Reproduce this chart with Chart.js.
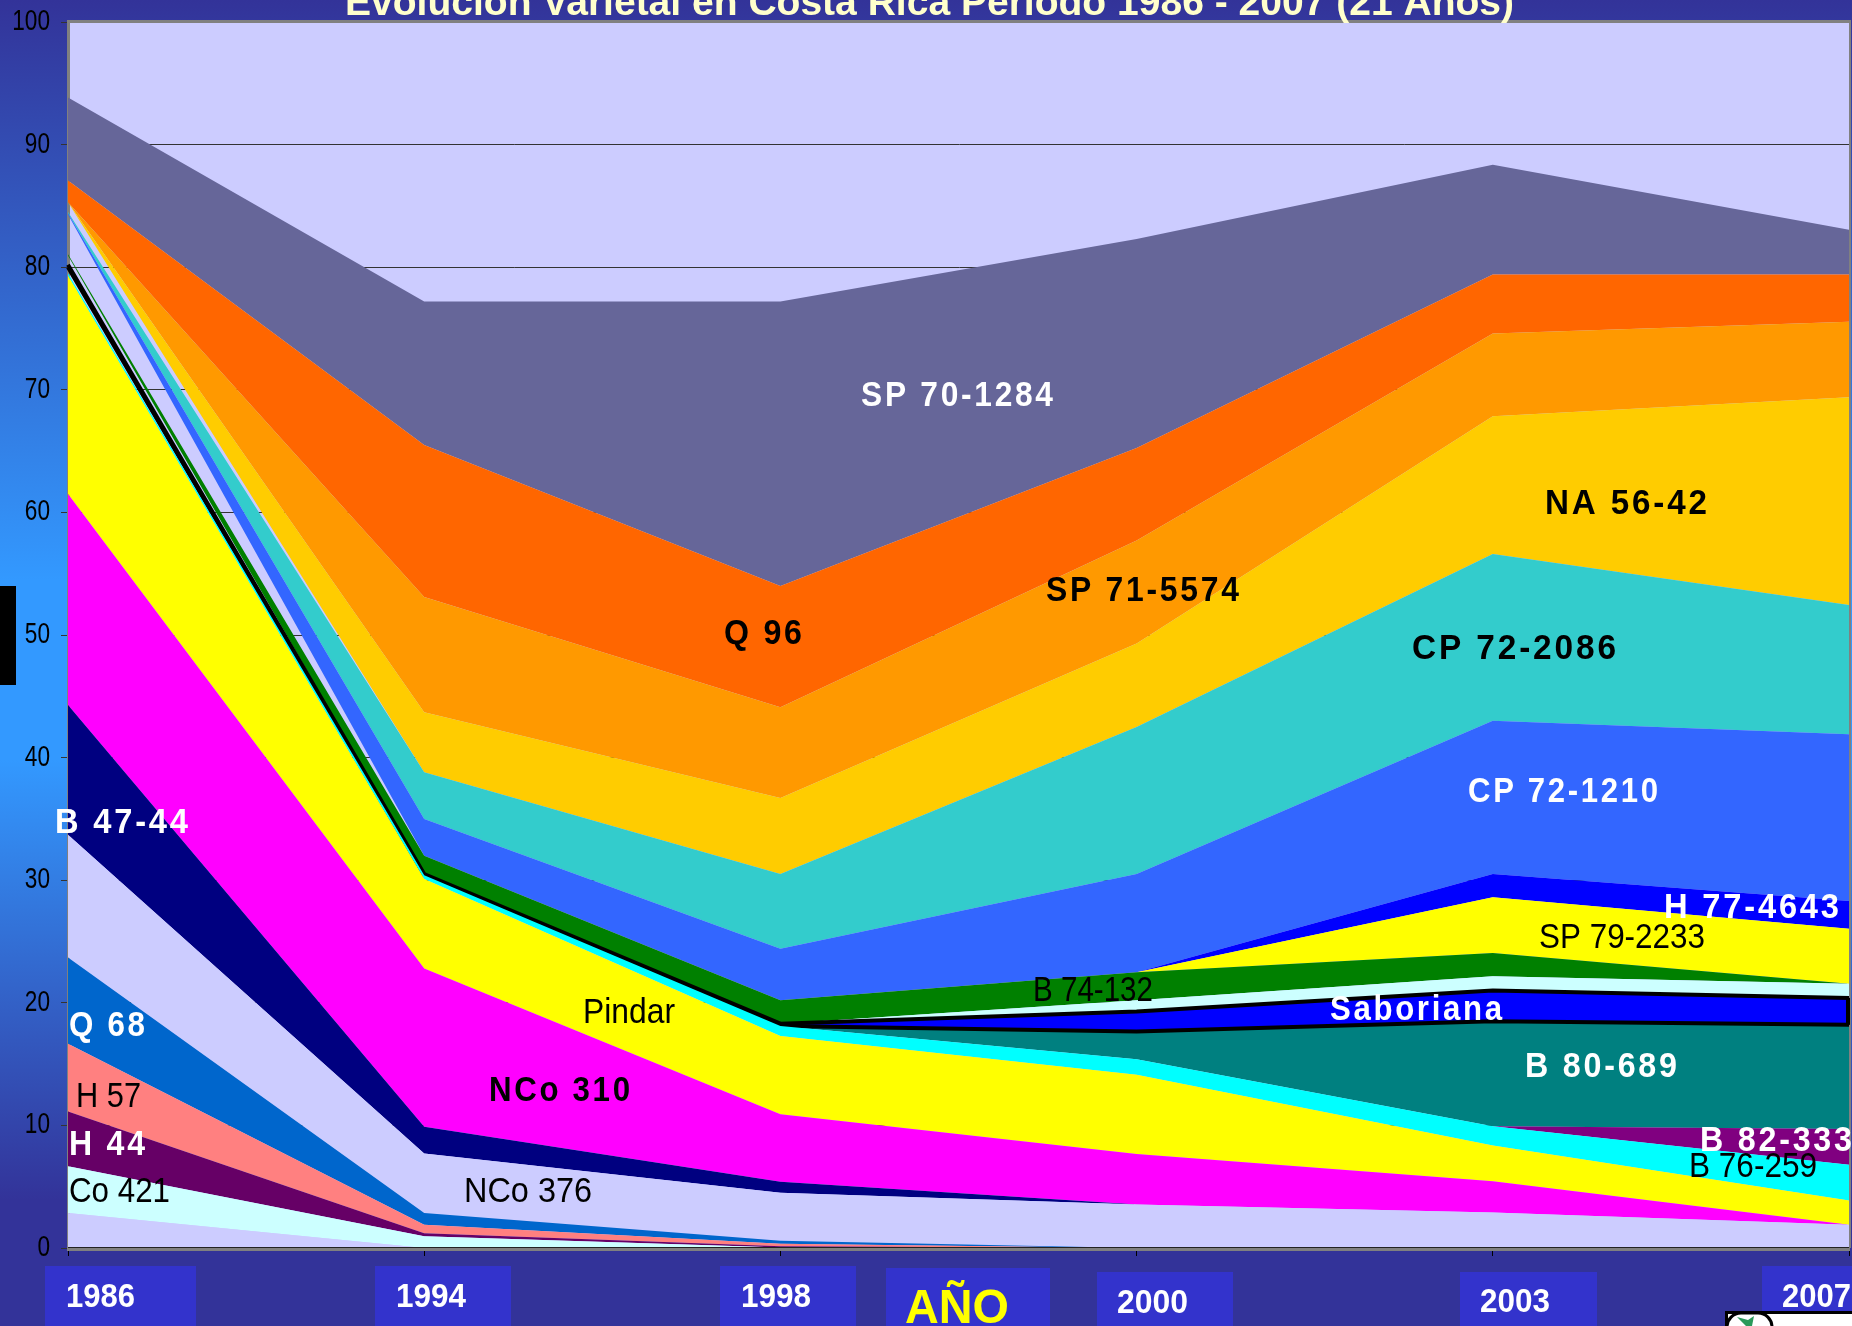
<!DOCTYPE html>
<html lang="es">
<head>
<meta charset="utf-8">
<title>Evolución Varietal en Costa Rica</title>
<script src="https://cdn.jsdelivr.net/npm/chart.js@4"></script>
<style>
html,body{margin:0;padding:0;width:1852px;height:1326px;overflow:hidden;
background:linear-gradient(to bottom,#333399 0,#3399FF 580px,#3399FF 760px,#333399 1200px,#333399 1326px);}
canvas{display:block;}
</style>
</head>
<body>
<canvas id="c" width="1852" height="1326"></canvas>
<script>
// ---------- data ----------
const categories = ['1986','1994','1998','2000','2003','2007'];
const yTicks = {min:0,max:100,step:10};
const seriesNames = ['Sin rótulo 1','Co 421','H 44','H 57','Q 68','NCo 376','B 47-44','NCo 310','Pindar','B 76-259','B 82-333','Hueco A','B 80-689','Saboriana','Sin rótulo 2','Hueco B','B 74-132','Hueco C','SP 79-2233','H 77-4643','CP 72-1210','CP 72-2086','Hueco D','NA 56-42','SP 71-5574','Q 96','SP 70-1284'];
const sinRotulo1 = [2.85,0,0,0,0,0];
const co421   = [3.81,0.95,0.05,0,0,0];
const h44     = [4.48,0.25,0.10,0,0,0];
const h57     = [5.52,0.7,0.2,0,0,0];
const q68     = [7.04,0.95,0.25,0,0,0];
const nco376  = [10,4.85,3.9,3.55,2.9,1.9];
const b4744   = [10.6,2.2,0.9,0,0,0];
const nco310  = [17.2,12.9,5.5,4.11,2.55,0];
const pindar  = [17.8,7.3,6.4,6.47,2.91,1.97];
const b76259  = [0.2,0.3,0.8,1.27,1.57,2.93];
const b82333  = [0,0,0,0,0,2.9];
const huecoA  = [0.5,0,0,0,0,0];
const b80689  = [0,0,0,2.26,8.57,8.5];
const saboriana = [0.2,0.1,0.2,1.64,2.5,2.2];
const sinRotulo2 = [0,0,0,0.9,1.16,1.16];
const huecoB  = [0.75,0,0,0,0,0];
const b74132  = [0.1,1.5,1.9,2.3,1.9,0];
const huecoC  = [3.25,0,0,0,0,0];
const sp792233 = [0,0,0,0,4.54,4.49];
const h774643 = [0,0,0,0,1.9,2.25];
const cp721210 = [0.1,3,4.2,8,12.5,13.6];
const cp722086 = [0.1,3.8,6.1,12,13.6,10.55];
const huecoD  = [0.8,0,0,0,0,0];
const na5642  = [0,4.9,6.2,6.8,11.25,16.95];
const sp715574 = [0,9.4,7.4,8.4,6.75,6.15];
const q96     = [1.77,12.4,9.9,7.55,4.8,3.85];
const sp701284 = [6.78,11.7,23.2,17.05,8.95,3.66];
const seriesValues = [sinRotulo1,co421,h44,h57,q68,nco376,b4744,nco310,pindar,b76259,b82333,huecoA,b80689,saboriana,sinRotulo2,huecoB,b74132,huecoC,sp792233,h774643,cp721210,cp722086,huecoD,na5642,sp715574,q96,sp701284];
// ---------- styles ----------
const seriesColors = ['#CCCCFF','#CCFFFF','#660066','#FF8080','#0066CC','#CCCCFF','#000080','#FF00FF','#FFFF00','#00FFFF','#800080','rgba(0,0,0,0)','#008080','#0000FF','#CCFFFF','rgba(0,0,0,0)','#008000','rgba(0,0,0,0)','#FFFF00','#0000FF','#3366FF','#33CCCC','rgba(0,0,0,0)','#FFCC00','#FF9900','#FF6600','#666699'];
const outlined = ['B 80-689','Saboriana'];
const FONT = '"Liberation Sans",Arial,sans-serif';
// text, left, right, baseline, bold, size, letterSpacing, colour
const seriesLabels = [
 ['SP 70-1284',861,1053,406,1,35,3,'#fff'],
 ['Q 96',724,802,644,1,35,3,'#000'],
 ['SP 71-5574',1046,1239,601,1,35,3,'#000'],
 ['NA 56-42',1545,1707,514,1,35,3,'#000'],
 ['CP 72-2086',1412,1616,659,1,35,3,'#000'],
 ['CP 72-1210',1468,1658,802,1,35,3,'#fff'],
 ['H 77-4643',1664,1839,918,1,35,3,'#fff'],
 ['Saboriana',1330,1502,1020,1,35,3,'#fff'],
 ['B 80-689',1525,1677,1077,1,35,3,'#fff'],
 ['B 82-333',1700,1852,1151,1,35,3,'#fff'],
 ['B 47-44',55,188,833,1,35,3,'#fff'],
 ['Q 68',69,145,1036,1,35,3,'#fff'],
 ['H 44',69,145,1155,1,35,3,'#fff'],
 ['NCo 310',489,630,1101,1,35,3,'#000'],
 ['SP 79-2233',1539,1705,948,0,35,0,'#000'],
 ['B 76-259',1689,1817,1177,0,35,0,'#000'],
 ['B 74-132',1033,1153,1001,0,35,0,'#000'],
 ['Pindar',583,675,1023,0,35,0,'#000'],
 ['NCo 376',464,592,1202,0,35,0,'#000'],
 ['H 57',76,141,1107,0,35,0,'#000'],
 ['Co 421',69,170,1202,0,35,0,'#000']
];
// box left, box right, box top, text left, text right, baseline
const yearBoxes = [
 [45,196,1266,66,135,1307],
 [375,511,1266,396,466,1307],
 [720,856,1266,741,811,1307],
 [1097,1233,1272,1117,1188,1313],
 [1460,1597,1272,1480,1550,1312],
 [1762,1852,1266,1782,1851,1307]
];
const axisTitle = 'AÑO';
const chartTitle = 'Evolución Varietal en Costa Rica Período 1986 - 2007 (21 Años)';

function fitText(ctx,text,left,right,base,bold,size,spacing,color){
  ctx.save();
  ctx.font=(bold?'bold ':'')+size+'px '+FONT;
  ctx.letterSpacing=spacing+'px';
  ctx.textAlign='left';ctx.textBaseline='alphabetic';
  ctx.fillStyle=color;
  const w=ctx.measureText(text).width-spacing;
  ctx.translate(left,base);
  ctx.scale((right-left)/w,1);
  ctx.fillText(text,0,0);
  ctx.restore();
}
const overlay = {
  id:'overlay',
  beforeDraw(chart){
    const a=chart.chartArea,ctx=chart.ctx;
    ctx.save();ctx.fillStyle='#CCCCFF';
    ctx.fillRect(a.left,a.top,a.right-a.left,a.bottom-a.top);
    ctx.restore();
  },
  afterLayout(chart){
    // the value labels are condensed in the reference: squeeze the scale's own labels
    const s=chart.scales.y;
    if(s._wrapped) return;
    s._wrapped=true;
    const drawLabels=s.drawLabels;
    s.drawLabels=function(area){
      const ctx=this.ctx;
      ctx.save();ctx.translate(50,0);ctx.scale(0.78,1);ctx.translate(-50,0);
      drawLabels.call(this,area);
      ctx.restore();
    };
  },
  afterDraw(chart){
    const ctx=chart.ctx,a=chart.chartArea;
    ctx.save();
    // grey frame
    ctx.fillStyle='#808080';
    ctx.fillRect(a.left-1,a.top-2,a.right-a.left+2,3);
    ctx.fillRect(a.right,a.top-2,2,a.bottom-a.top+2);
    ctx.fillRect(a.left-1,a.bottom,a.right-a.left+2,3);
    ctx.fillStyle='#222';
    ctx.fillRect(a.left,a.bottom-1,a.right-a.left,1);
    // black closing edge of the outlined series at the last category
    const top=chart.getDatasetMeta(seriesNames.indexOf('Saboriana')).data[5];
    const low=chart.getDatasetMeta(seriesNames.indexOf('B 80-689')).data[5];
    ctx.strokeStyle='#000';ctx.lineWidth=4;
    ctx.beginPath();ctx.moveTo(top.x-1,top.y);ctx.lineTo(low.x-1,low.y);ctx.stroke();
    // stray black block at the left edge
    ctx.fillStyle='#000';ctx.fillRect(0,586,16,99);
    // boxes under the axis
    ctx.fillStyle='#3333CC';
    yearBoxes.forEach(b=>ctx.fillRect(b[0],b[2],b[1]-b[0],1326-b[2]));
    ctx.fillRect(886,1268,164,58);
    // logo fragment
    ctx.fillStyle='#000';ctx.fillRect(1725,1311,127,15);
    ctx.fillStyle='#fff';ctx.fillRect(1728,1314,124,12);
    ctx.beginPath();ctx.roundRect(1727,1313,45,30,14);
    ctx.lineWidth=3;ctx.strokeStyle='#000';ctx.stroke();
    ctx.fillStyle='#2A9A5A';
    ctx.beginPath();ctx.moveTo(1737,1317);ctx.lineTo(1746,1326);ctx.lineTo(1752,1326);ctx.lineTo(1754,1316);ctx.lineTo(1748,1320);ctx.closePath();ctx.fill();
    ctx.restore();
    yearBoxes.forEach((b,i)=>fitText(ctx,categories[i],b[3],b[4],b[5],1,33,0,'#fff'));
    fitText(ctx,axisTitle,905,1009,1323,1,49,0,'#FFFF00');
    seriesLabels.forEach(l=>fitText(ctx,l[0],l[1],l[2],l[3],l[4],l[5],l[6],l[7]));
    fitText(ctx,chartTitle,345,1514,15,1,38,0,'#FFFFCC');
  }
};
new Chart(document.getElementById('c'),{
  type:'line',
  data:{
    labels:categories,
    datasets:seriesNames.map((name,i)=>({
      label:name,
      data:seriesValues[i],
      backgroundColor:seriesColors[i],
      borderColor:outlined.includes(name)?'#000':'rgba(0,0,0,0)',
      borderWidth:outlined.includes(name)?4:0,
      fill:i===0?'origin':'-1',
      pointRadius:0,
      tension:0
    }))
  },
  plugins:[overlay],
  options:{
    responsive:false,
    animation:false,
    devicePixelRatio:1,
    layout:{padding:{left:0,right:3,top:22,bottom:0}},
    plugins:{legend:{display:false},tooltip:{enabled:false},title:{display:false}},
    scales:{
      x:{
        stacked:true,
        offset:false,
        afterFit(s){s.height=78;s.paddingLeft=0;s.paddingRight=0;},
        grid:{drawOnChartArea:false,color:'#000',tickLength:8,offset:false},
        border:{color:'#808080',width:3},
        ticks:{display:false}
      },
      y:{
        stacked:true,
        min:yTicks.min,max:yTicks.max,
        afterFit(s){s.width=68;s.paddingTop=0;s.paddingBottom=0;},
        grid:{color:'#333333',lineWidth:1,tickLength:7},
        border:{color:'#808080',width:3},
        ticks:{stepSize:yTicks.step,color:'#000',padding:11,font:{family:'"Liberation Sans"',size:29}}
      }
    }
  }
});
</script>
</body>
</html>
